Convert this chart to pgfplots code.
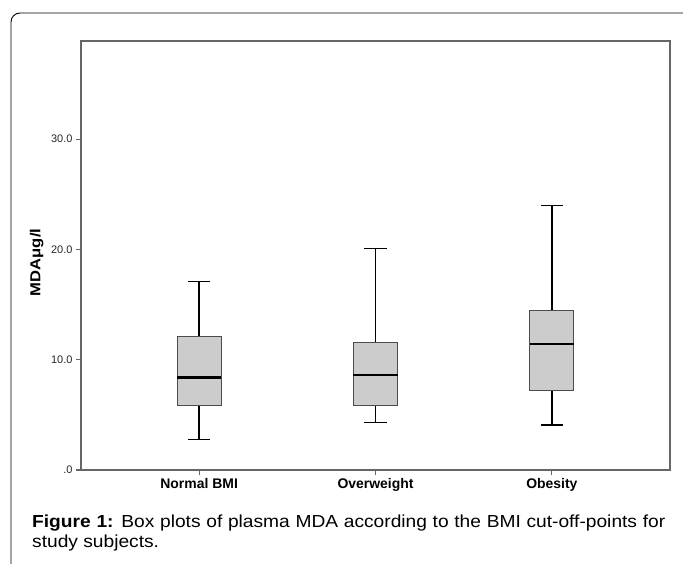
\documentclass[border=0pt]{standalone}
\usepackage{fontspec}
\setmainfont{Liberation Sans}
\newfontfamily\capfont{Liberation Sans}[FakeStretch=1.1]
\newfontfamily\ylfont{Liberation Sans}[FakeStretch=1.15]
\usepackage{pgfplots}
\pgfplotsset{compat=1.18}
\usepgfplotslibrary{statistics}
\begin{document}
\begin{tikzpicture}
\useasboundingbox (0bp,0bp) rectangle (683bp,564bp);
% outer frame of the figure
\draw[black, line width=0.9bp, rounded corners=9bp] (11bp,0bp) -- (11bp,551bp) -- (690bp,551bp);
\begin{axis}[
    at={(81bp,94bp)}, anchor=south west,
    scale only axis, width=589bp, height=429bp,
    xmin=-0.67, xmax=2.67,
    ymin=0, ymax=38.9,
    xtick={0,1,2},
    xticklabels={Normal BMI, Overweight, Obesity},
    ytick={0,10,20,30},
    yticklabels={.0,10.0,20.0,30.0},
    xtick pos=bottom, ytick pos=left,
    tick align=outside,
    major tick length=5bp,
    axis line style={draw=black!60, line width=1.3bp},
    tick style={draw=black!60, line width=1.2bp},
    xticklabel style={font=\bfseries\fontsize{14}{16}\selectfont},
    yticklabel style={font=\fontsize{11}{13}\selectfont, text=black!85},
    /pgf/number format/assume math mode=true,
    ylabel={\bfseries MDAμg/l},
    every axis y label/.style={at={(ticklabel cs:0.484)}, rotate=90,
        anchor=near ticklabel, font=\ylfont\fontsize{14.5}{16}\selectfont},
    ylabel shift=1bp,
    boxplot/draw direction=y,
    boxplot/every median/.style={draw=black, line width=2.6bp},
    boxplot/every whisker/.style={draw=black, line width=1.4bp},
]
\addplot[draw=black!70, fill=black!20, line width=0.9bp, solid,
    boxplot prepared={draw direction=y, draw position=0,
        lower whisker=2.78, lower quartile=5.89, median=8.40,
        upper quartile=12.15, upper whisker=17.1,
        box extend=0.25, whisker extend=0.125}] coordinates {};
\addplot[draw=black!70, fill=black!20, line width=0.9bp, solid,
    boxplot prepared={draw direction=y, draw position=1,
        lower whisker=4.32, lower quartile=5.86, median=8.61,
        upper quartile=11.54, upper whisker=20.1,
        box extend=0.25, whisker extend=0.125}] coordinates {};
\addplot[draw=black!70, fill=black!20, line width=0.9bp, solid,
    boxplot prepared={draw direction=y, draw position=2,
        lower whisker=4.08, lower quartile=7.25, median=11.42,
        upper quartile=14.5, upper whisker=24.0,
        box extend=0.25, whisker extend=0.125}] coordinates {};
\end{axis}
\node[anchor=base west, inner sep=0pt, text width=633bp, align=justify,
    font=\capfont\fontsize{17.5}{21}\selectfont] at (32bp,37bp)
    {\textbf{Figure 1:} Box plots of plasma MDA according to the BMI cut-off-points for\linebreak study subjects.};
\end{tikzpicture}
\end{document}
